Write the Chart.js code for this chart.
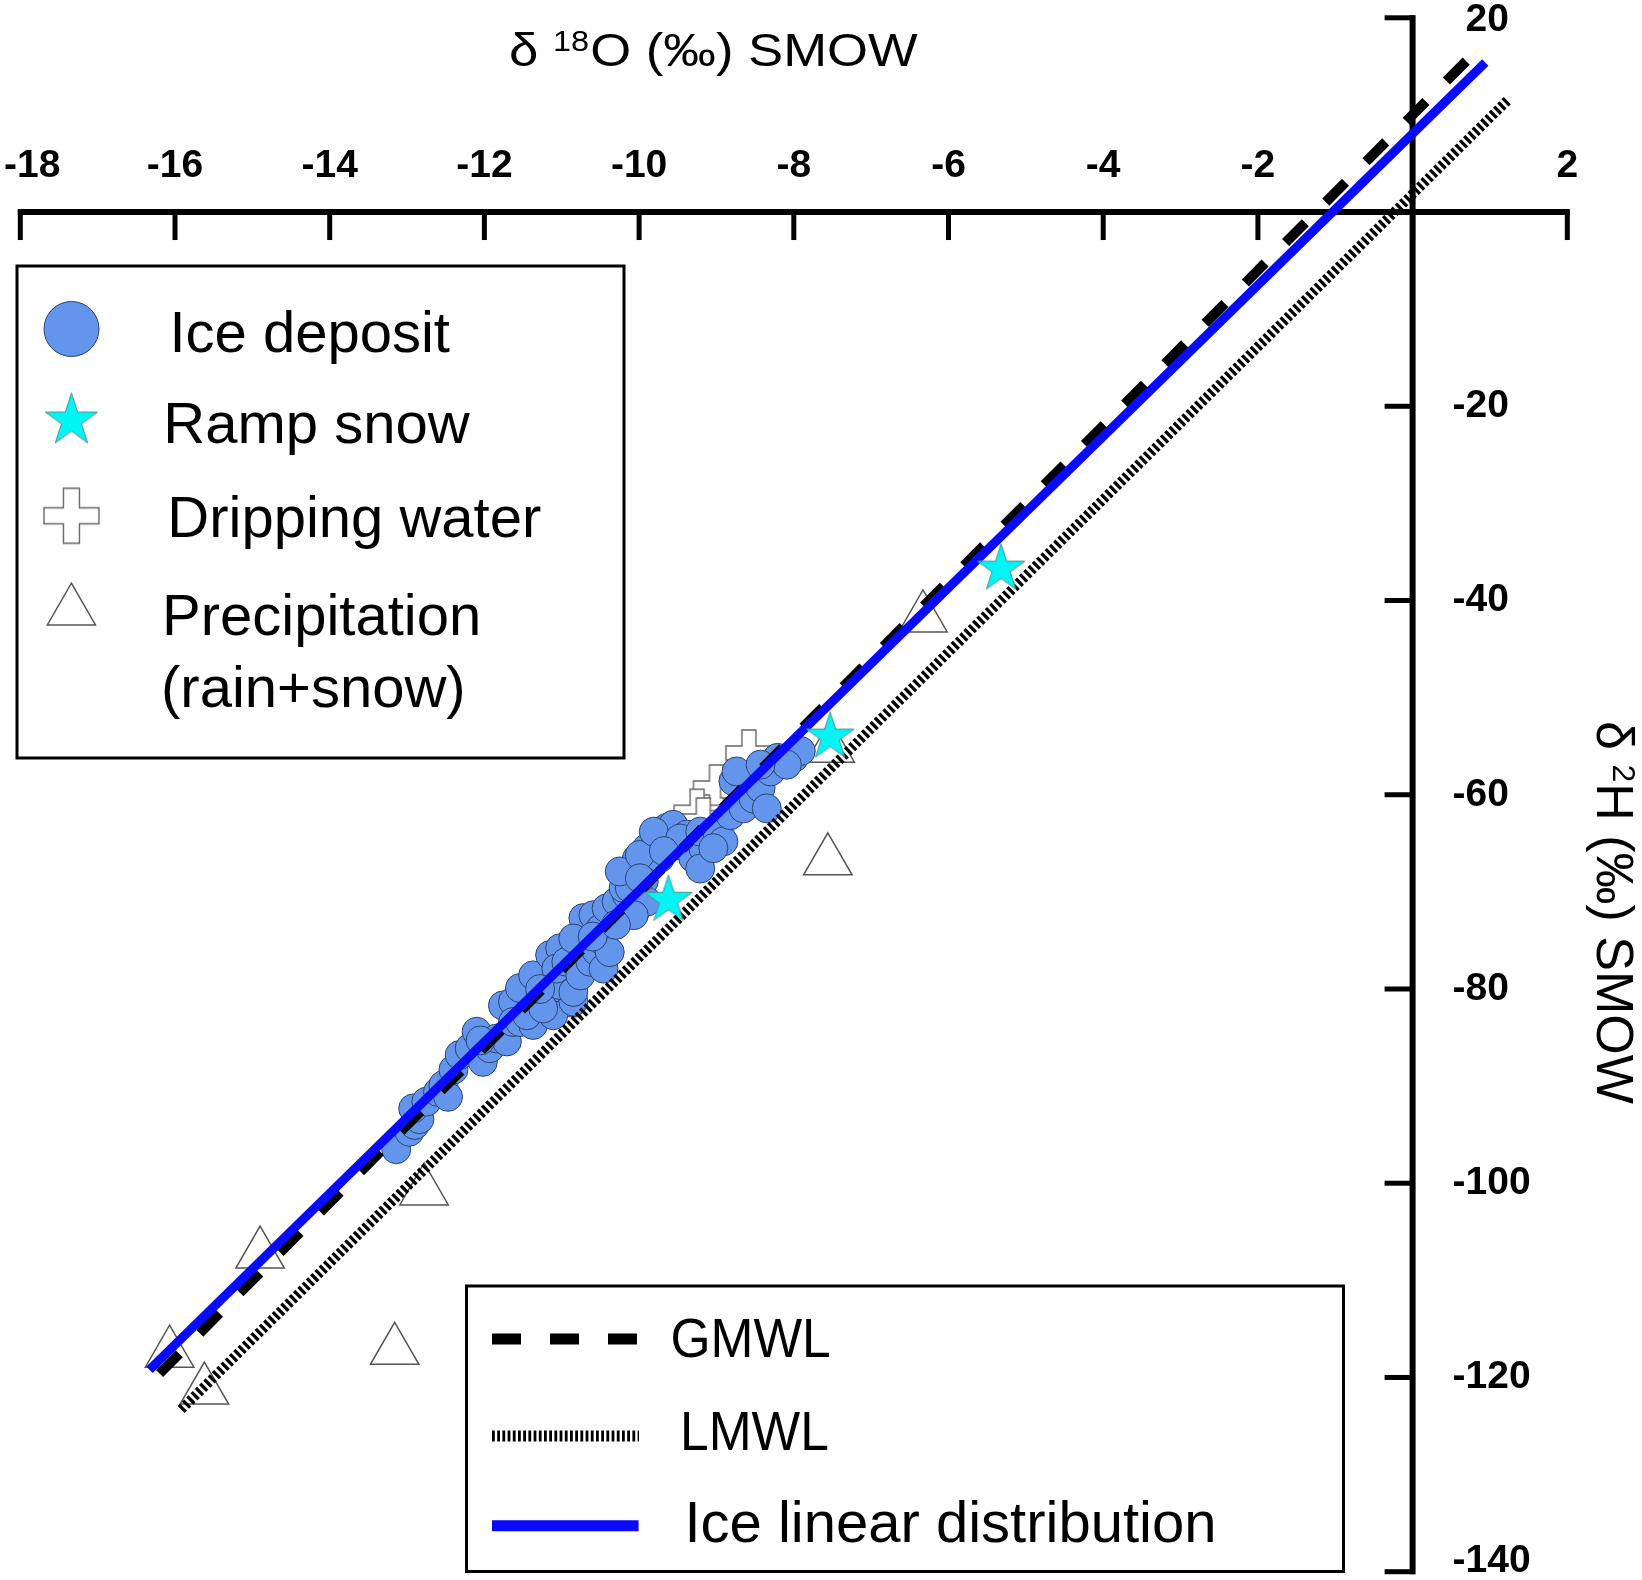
<!DOCTYPE html>
<html><head><meta charset="utf-8">
<script src="https://cdn.jsdelivr.net/npm/chart.js@4.4.1/dist/chart.umd.min.js"></script>
<style>html,body{margin:0;padding:0;background:#fff;}#wrap{position:relative;width:1642px;height:1580px;}</style>
</head><body><div id="wrap"><canvas id="c" width="1642" height="1580"></canvas></div>
<script>
// ---- data (δ18O, δ2H) ----
const iceDeposit = [
 [-13.14,-96.5],[-12.97,-94.7],[-12.90,-94.0],[-12.84,-93.4],[-12.92,-92.3],[-12.75,-91.6],[-12.60,-90.6],
 [-12.53,-89.9],[-12.47,-91.1],[-12.40,-88.3],[-12.32,-86.8],[-12.19,-86.1],[-12.10,-84.4],[-12.02,-87.5],
 [-11.93,-86.1],[-11.84,-85.1],[-11.76,-81.7],[-11.71,-85.4],[-11.63,-81.3],[-11.63,-83.4],[-11.54,-83.4],
 [-11.45,-80.3],[-11.33,-82.4],[-11.37,-83.7],[-11.20,-81.3],[-11.11,-82.7],[-10.94,-79.9],[-10.85,-81.3],
 [-11.02,-79.6],[-11.54,-79.9],[-11.37,-78.6],[-11.45,-82.7],[-11.24,-82.0],[-11.15,-76.5],[-11.02,-75.8],
 [-11.07,-77.9],[-10.94,-77.2],[-10.85,-80.3],[-10.76,-78.6],[-10.63,-77.2],[-10.55,-76.1],[-10.46,-77.9],
 [-10.72,-72.7],[-10.59,-72.4],[-10.50,-73.8],[-10.46,-75.1],[-10.38,-76.2],[-10.42,-71.7],[-10.29,-71.0],
 [-10.16,-70.3],[-10.20,-69.6],[-10.03,-71.7],[-9.99,-70.0],[-10.85,-74.8],[-10.16,-67.9],[-10.03,-66.6],
 [-10.12,-69.6],[-9.90,-65.5],[-9.94,-68.9],[-9.77,-64.5],[-9.64,-63.4],[-9.56,-63.1],[-9.73,-66.5],
 [-9.51,-65.2],[-9.38,-64.1],[-9.30,-66.5],[-9.17,-65.5],[-9.21,-67.6],[-9.90,-71.0],[-10.07,-72.4],
 [-10.25,-67.9],[-9.99,-66.2],[-9.81,-63.8],[-9.47,-64.5],[-9.21,-63.8],[-8.99,-63.8],[-8.91,-64.8],
 [-9.04,-65.5],[-8.82,-62.1],[-8.65,-61.4],[-8.52,-60.4],[-8.43,-59.3],[-8.78,-58.6],[-8.74,-57.6],
 [-8.30,-57.6],[-8.21,-56.2],[-8.00,-56.2],[-7.91,-55.5],[-8.09,-56.9],[-8.43,-56.9],[-8.35,-61.4],
 [-9.99,-68.6],[-10.60,-74.6],[-10.30,-73.4],[-9.68,-65.8],[-11.28,-80.0],[-12.05,-85.3]
];
const rampSnow = [[-5.32,-36.5],[-7.53,-53.8],[-9.62,-70.6]];
const drippingWater = [[-8.58,-55.7],[-9.00,-59.3],[-9.25,-61.8],[-8.65,-59.6],[-9.08,-64.0],[-9.17,-62.7]];
const precipitation = [[-6.33,-41.8],[-7.56,-66.8],[-7.53,-55.2],[-11.06,-81.4],[-12.78,-100.8],
 [-13.16,-117.2],[-14.90,-107.3],[-16.07,-117.5],[-15.62,-121.3]];
const gmwlLine = [[-16.2,-119.6],[0.8,16.4]];
const lmwlLine = [[-15.92,-123.3],[1.24,11.6]];
const iceLine = [[-16.33,-119.2],[0.94,15.4]];

const xTickValues = [-18,-16,-14,-12,-10,-8,-6,-4,-2,0,2];
const xTickLabels = ['-18','-16','-14','-12','-10','-8','-6','-4','-2','','2'];
const yTickValues = [20,0,-20,-40,-60,-80,-100,-120,-140];
const yTickLabels = ['20','','-20','-40','-60','-80','-100','-120','-140'];
const pointLegendLabels = ['Ice deposit','Ramp snow','Dripping water','Precipitation','(rain+snow)'];
const lineLegendLabels = ['GMWL','LMWL','Ice linear distribution'];
const xTitleParts = ['δ ','18','O (‰) SMOW'];
const yTitleParts = ['δ ','2','H (‰) SMOW'];

const FONT = '"Liberation Sans", Arial, sans-serif';
const toPts = a => a.map(p => ({x:p[0], y:p[1]}));

function makeStar(R){
  const s = Math.ceil(2*R+6), c = document.createElement('canvas');
  c.width = s; c.height = s;
  const g = c.getContext('2d');
  const cx = s/2, cy = s/2 + 0.095*R, r = R*0.382;
  g.beginPath();
  for(let i=0;i<10;i++){
    const a = -Math.PI/2 + i*Math.PI/5, rr = i%2===0 ? R : r;
    const px = cx + rr*Math.cos(a), py = cy + rr*Math.sin(a);
    i===0 ? g.moveTo(px,py) : g.lineTo(px,py);
  }
  g.closePath();
  g.fillStyle = '#00f5f5'; g.fill();
  g.lineWidth = 1; g.strokeStyle = '#4f8f8f'; g.stroke();
  return c;
}
function makeCross(S, a){
  const s = Math.ceil(S+4), c = document.createElement('canvas');
  c.width = s; c.height = s;
  const g = c.getContext('2d');
  const h = S/2, w = a/2, cx = s/2, cy = s/2;
  const P = [[-w,-h],[w,-h],[w,-w],[h,-w],[h,w],[w,w],[w,h],[-w,h],[-w,w],[-h,w],[-h,-w],[-w,-w]];
  g.beginPath();
  P.forEach((p,i)=>{ const X = cx+p[0], Y = cy+p[1]; i===0?g.moveTo(X,Y):g.lineTo(X,Y); });
  g.closePath();
  g.fillStyle = '#ffffff'; g.fill();
  g.lineWidth = 1.4; g.strokeStyle = '#666'; g.stroke();
  return c;
}
const starSmall = makeStar(25), starBig = makeStar(27.5);
const crossSmall = makeCross(46, 14), crossBig = makeCross(55, 16);

const axesPlugin = {
  id: 'isoAxes',
  beforeDatasetsDraw(chart){
    const ctx = chart.ctx, xs = chart.scales.x, ys = chart.scales.y;
    const x0 = xs.getPixelForValue(0), y0 = ys.getPixelForValue(0);
    ctx.save();
    ctx.strokeStyle = '#000'; ctx.lineCap = 'butt';
    ctx.lineWidth = 6;
    ctx.beginPath();
    ctx.moveTo(xs.getPixelForValue(-18)-2.5, y0); ctx.lineTo(xs.getPixelForValue(2)+2.5, y0); ctx.stroke();
    ctx.lineWidth = 5;
    xTickValues.forEach(v => { const p = xs.getPixelForValue(v); ctx.beginPath(); ctx.moveTo(p, y0-2); ctx.lineTo(p, y0+28); ctx.stroke(); });
    ctx.lineWidth = 6;
    ctx.beginPath();
    ctx.moveTo(x0, ys.getPixelForValue(20)-2.5); ctx.lineTo(x0, ys.getPixelForValue(-140)+2.5); ctx.stroke();
    ctx.lineWidth = 5;
    yTickValues.forEach(v => { const p = ys.getPixelForValue(v); ctx.beginPath(); ctx.moveTo(x0+2, p); ctx.lineTo(x0-28, p); ctx.stroke(); });
    ctx.fillStyle = '#000';
    ctx.font = 'bold 39px ' + FONT;
    ctx.textBaseline = 'middle';
    ctx.textAlign = 'left';
    xTickValues.forEach((v,i) => {
      const t = xTickLabels[i]; if(!t) return;
      const w = ctx.measureText(t).width;
      let left = xs.getPixelForValue(v) - w/2;
      if (left < 4) left = 4;
      ctx.fillText(t, left, 166);
    });
    const minusW = ctx.measureText('-').width;
    yTickValues.forEach((v,i) => {
      const t = yTickLabels[i]; if(!t) return;
      let y = ys.getPixelForValue(v);
      if (y > 1561) y = 1561;
      if (y < 20) y = 20;
      ctx.fillText(t, x0 + 40 + (v > 0 ? minusW : 0), y);
    });
    ctx.restore();
  },
  afterDraw(chart){
    const ctx = chart.ctx;
    ctx.save();
    ctx.fillStyle = '#000';
    ctx.textAlign = 'left';
    ctx.textBaseline = 'alphabetic';
    // top title
    ctx.save();
    ctx.translate(509, 66);
    ctx.scale(1.12, 1);
    ctx.font = '47px ' + FONT;
    let w0 = ctx.measureText(xTitleParts[0]).width;
    ctx.fillText(xTitleParts[0], 0, 0);
    ctx.font = '29px ' + FONT;
    ctx.fillText(xTitleParts[1], w0, -15);
    let w1 = ctx.measureText(xTitleParts[1]).width;
    ctx.font = '47px ' + FONT;
    ctx.fillText(xTitleParts[2], w0 + w1 + 1, 0);
    ctx.restore();
    // right title (rotated)
    ctx.save();
    ctx.translate(1597, 721);
    ctx.rotate(Math.PI/2);
    ctx.font = '52px ' + FONT;
    w0 = ctx.measureText(yTitleParts[0]).width;
    ctx.fillText(yTitleParts[0], 0, 0);
    ctx.font = '32px ' + FONT;
    ctx.fillText(yTitleParts[1], w0, -16);
    w1 = ctx.measureText(yTitleParts[1]).width;
    ctx.font = '52px ' + FONT;
    ctx.fillText(yTitleParts[2], w0 + w1 + 1, 0);
    ctx.restore();

    // legend 1
    ctx.lineWidth = 3; ctx.strokeStyle = '#000';
    ctx.strokeRect(17, 266, 607, 492);
    ctx.beginPath(); ctx.arc(71.5, 329, 27.5, 0, Math.PI*2);
    ctx.fillStyle = '#6495ed'; ctx.fill();
    ctx.lineWidth = 1; ctx.strokeStyle = '#2c4270'; ctx.stroke();
    ctx.drawImage(starBig, 71.4 - starBig.width/2, 418 - starBig.height/2);
    ctx.drawImage(crossBig, 71.4 - crossBig.width/2, 515.8 - crossBig.height/2);
    const tr = 27.8, tx = 71.4, ty = 611;
    ctx.beginPath();
    ctx.moveTo(tx, ty - tr);
    ctx.lineTo(tx + tr*Math.sin(Math.PI*2/3), ty - tr*Math.cos(Math.PI*2/3));
    ctx.lineTo(tx + tr*Math.sin(Math.PI*4/3), ty - tr*Math.cos(Math.PI*4/3));
    ctx.closePath();
    ctx.fillStyle = '#fff'; ctx.fill();
    ctx.lineWidth = 1.5; ctx.strokeStyle = '#555'; ctx.stroke();
    ctx.fillStyle = '#000';
    ctx.font = '58px ' + FONT;
    const l1pos = [[169.4,351.7],[163.3,443],[167.3,536.7],[162,635],[161,706.7]];
    pointLegendLabels.forEach((t,i)=> ctx.fillText(t, l1pos[i][0], l1pos[i][1]));

    // legend 2
    ctx.lineWidth = 3; ctx.strokeStyle = '#000';
    ctx.strokeRect(466.5, 1286, 877, 285.5);
    ctx.lineCap = 'butt';
    ctx.setLineDash([29,29]); ctx.lineWidth = 11;
    ctx.beginPath(); ctx.moveTo(492,1339); ctx.lineTo(640,1339); ctx.stroke();
    ctx.setLineDash([2.8,2.4]); ctx.lineWidth = 11;
    ctx.beginPath(); ctx.moveTo(492,1436); ctx.lineTo(639,1436); ctx.stroke();
    ctx.setLineDash([]); ctx.lineWidth = 11; ctx.strokeStyle = '#0a0aff';
    ctx.beginPath(); ctx.moveTo(492,1525.7); ctx.lineTo(638.6,1525.7); ctx.stroke();
    ctx.fillStyle = '#000';
    ctx.save(); ctx.translate(670.5,1357.3); ctx.scale(0.92,1); ctx.font = '56px ' + FONT; ctx.fillText(lineLegendLabels[0],0,0); ctx.restore();
    ctx.save(); ctx.translate(680,1450); ctx.scale(0.92,1); ctx.font = '56px ' + FONT; ctx.fillText(lineLegendLabels[1],0,0); ctx.restore();
    ctx.font = '58px ' + FONT;
    ctx.fillText(lineLegendLabels[2], 684.5, 1541.7);
    ctx.restore();
  }
};

const bg = { id:'bg', beforeDraw(c){ const g=c.ctx; g.save(); g.fillStyle='#fff'; g.fillRect(0,0,c.width,c.height); g.restore(); } };

new Chart(document.getElementById('c'), {
  type: 'scatter',
  data: { datasets: [
    { label:'Ramp snow', data: toPts(rampSnow), order:0, pointStyle: starSmall, pointRadius: 20, pointHoverRadius: 20 },
    { label:'Ice linear distribution', data: toPts(iceLine), order:1, showLine:true, pointRadius:0, borderColor:'#0a0aff', borderWidth:9, fill:false },
    { label:'GMWL', data: toPts(gmwlLine), order:2, showLine:true, pointRadius:0, borderColor:'#000', borderWidth:10, borderDash:[28,29], fill:false },
    { label:'LMWL', data: toPts(lmwlLine), order:3, showLine:true, pointRadius:0, borderColor:'#000', borderWidth:10, borderDash:[3.3,2.7], fill:false },
    { label:'Ice deposit', data: toPts(iceDeposit), order:4, pointStyle:'circle', pointRadius:14.5, pointBackgroundColor:'#6495ed', pointBorderColor:'#2c4270', pointBorderWidth:1 },
    { label:'Dripping water', data: toPts(drippingWater), order:5, pointStyle: crossSmall, pointRadius: 20 },
    { label:'Precipitation', data: toPts(precipitation), order:6, pointStyle:'triangle', pointRadius:28, pointBackgroundColor:'#fff', pointBorderColor:'#555', pointBorderWidth:1.5 }
  ]},
  options: {
    responsive:false, animation:false,
    layout:{ autoPadding:false, padding:{ left:20.3, right:74.7, top:17.8, bottom:8.3 } },
    scales:{
      x:{ type:'linear', min:-18, max:2, display:false },
      y:{ type:'linear', min:-140, max:20, display:false }
    },
    plugins:{ legend:{display:false}, tooltip:{enabled:false} },
    elements:{ line:{ tension:0 } },
    clip:false
  },
  plugins:[bg, axesPlugin]
});
</script></body></html>
